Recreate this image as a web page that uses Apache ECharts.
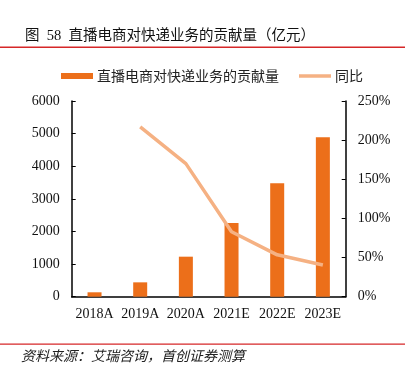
<!DOCTYPE html>
<html><head><meta charset="utf-8">
<script src="https://cdn.jsdelivr.net/npm/echarts@6/dist/echarts.min.js"></script>
<style>html,body{margin:0;padding:0;background:#fff}#c{width:414px;height:369px}</style>
</head><body><div id="c"></div>
<script>
var categories = ['2018A','2019A','2020A','2021E','2022E','2023E'];
var contribution = [135, 440, 1227, 2262, 3478, 4890];
var yoy = [null, 217, 170, 83, 53.5, 40.6];

var serif = "'Liberation Serif','Times New Roman','Noto Sans CJK SC',serif";
var chart = echarts.init(document.getElementById('c'), null, {renderer:'canvas'});
chart.setOption({
  animation:false,
  backgroundColor:'#fff',
  title:{text:'图  58  直播电商对快递业务的贡献量（亿元）', left:20, top:24,
    textStyle:{fontFamily:serif, fontSize:14.5, fontWeight:'normal', color:'#111'}},
  graphic:[
    {type:'rect', shape:{x:0,y:46.5,width:405,height:1.5}, style:{fill:'#D62728'}},
    {type:'rect', shape:{x:0,y:343.5,width:405,height:1.2}, style:{fill:'#D62728'}},
    {type:'text', left:21, top:349, style:{text:'资料来源：艾瑞咨询，首创证券测算',
      font:"italic 14px 'Noto Sans CJK SC'", fill:'#222'}}
  ],
  legend:{top:64, left:56, itemGap:20, itemWidth:32, itemHeight:6,
    textStyle:{fontFamily:"'Noto Sans CJK SC'", fontSize:14, color:'#222', padding:[0,0,0,-1]},
    data:[{name:'直播电商对快递业务的贡献量', icon:'rect'},
          {name:'同比', icon:'path://M0,0 L32,0 L32,3.5 L0,3.5 Z', itemStyle:{color:'#F5B183'}}]},
  grid:{left:71.7, right:68.3, top:101, bottom:72.3},
  xAxis:{type:'category', data:categories,
    axisLine:{lineStyle:{color:'#000', width:1.5}},
    axisTick:{inside:true, length:4, lineStyle:{color:'#000'}},
    axisLabel:{fontFamily:serif, fontSize:14, color:'#111', margin:11, interval:0}},
  yAxis:[
    {type:'value', min:0, max:6000, interval:1000,
     axisLine:{show:true, lineStyle:{color:'#000', width:1.5}},
     axisTick:{show:true, inside:true, length:4, lineStyle:{color:'#000'}},
     splitLine:{show:false},
     axisLabel:{fontFamily:serif, fontSize:14, color:'#111', margin:12,
       formatter:function(v){return String(v);}}},
    {type:'value', min:0, max:250, interval:50,
     axisLine:{show:true, lineStyle:{color:'#000', width:1.5}},
     axisTick:{show:true, inside:true, length:4, lineStyle:{color:'#000'}},
     splitLine:{show:false},
     axisLabel:{fontFamily:serif, fontSize:14, color:'#111', margin:12, formatter:'{value}%'}}
  ],
  series:[
    {name:'直播电商对快递业务的贡献量', type:'bar', data:contribution, barWidth:14,
     itemStyle:{color:'#EC6F1A'}},
    {name:'同比', type:'line', yAxisIndex:1, data:yoy, symbol:'none', smooth:false,
     lineStyle:{color:'#F5B183', width:3.5}, itemStyle:{color:'#F5B183'}}
  ]
});
</script></body></html>
